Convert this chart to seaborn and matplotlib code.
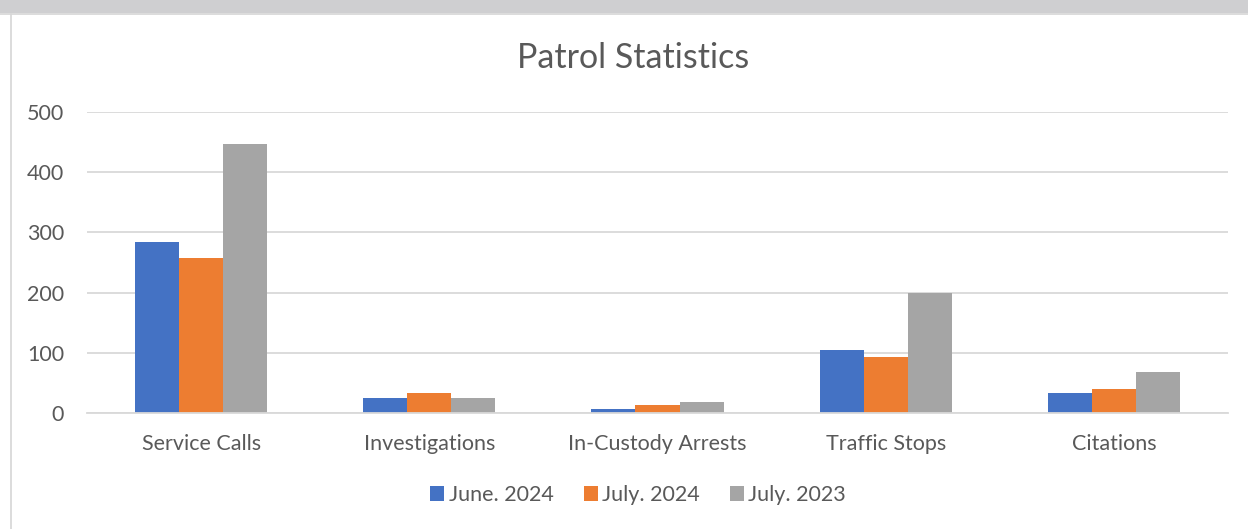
import pandas as pd
import seaborn as sns
import matplotlib.pyplot as plt
from matplotlib.patches import Rectangle
from matplotlib.lines import Line2D

categories = ["Service Calls", "Investigations", "In-Custody Arrests", "Traffic Stops", "Citations"]
series = ["June. 2024", "July. 2024", "July. 2023"]
june_2024 = [284, 24, 6, 104, 32]
july_2024 = [258, 33, 12, 92, 39]
july_2023 = [447, 24, 18, 200, 67]
colors = ["#4472C4", "#ED7D31", "#A5A5A5"]
y_ticks = [0, 100, 200, 300, 400, 500]

rows = []
for name, vals in zip(series, [june_2024, july_2024, july_2023]):
    for cat, v in zip(categories, vals):
        rows.append({"Category": cat, "Series": name, "Value": v})
df = pd.DataFrame(rows)

sns.set_style("white")
plt.rcParams["font.family"] = ["Lato", "DejaVu Sans"]
text_col = "#595959"

fig = plt.figure(figsize=(12.48, 5.29), dpi=100)
fig.patch.set_facecolor("white")

# page background strip above the chart frame
fig.patches.append(Rectangle((0, 1 - 13 / 529), 1, 13 / 529, transform=fig.transFigure,
                             facecolor="#CFCFD1", edgecolor="none", zorder=0))
fig.lines.append(Line2D([0, 1], [1 - 13.5 / 529] * 2, transform=fig.transFigure,
                        color="#D6D6D6", lw=1.2))
fig.lines.append(Line2D([11 / 1248] * 2, [0, 1 - 13.5 / 529], transform=fig.transFigure,
                        color="#D6D6D6", lw=1.2))

ax = fig.add_axes([87 / 1248, 1 - 412.7 / 529, (1228 - 87) / 1248, (412.7 - 112.3) / 529])
sns.barplot(data=df, x="Category", y="Value", hue="Series", palette=colors,
            width=0.58, gap=0, saturation=1, ax=ax, legend=False, edgecolor="none")

ax.set_ylim(0, 500)
ax.set_xlim(-0.5, 4.5)
ax.set_yticks(y_ticks)
ax.yaxis.grid(True, color="#D9D9D9", lw=1.3)
ax.set_axisbelow(True)
for s in ["top", "right", "left"]:
    ax.spines[s].set_visible(False)
ax.spines["bottom"].set_color("#D9D9D9")
ax.spines["bottom"].set_linewidth(1.3)
ax.set_xlabel("")
ax.set_ylabel("")
ax.tick_params(axis="both", length=0, labelsize=15.5, labelcolor=text_col)
ax.tick_params(axis="y", pad=16.5)
ax.tick_params(axis="x", pad=15)

fig.text(633 / 1248, 1 - 58 / 529, "Patrol Statistics", ha="center", va="center",
         fontsize=24.5, color=text_col)

handles = [Rectangle((0, 0), 1, 1, facecolor=c, edgecolor="none") for c in colors]
fig.legend(handles, series, loc="center", bbox_to_anchor=(638 / 1248, 1 - 495 / 529),
           ncol=3, frameon=False, fontsize=15.5, labelcolor=text_col,
           handlelength=0.65, handleheight=0.65, handletextpad=0.2, columnspacing=1.4)

fig.savefig("out.png", dpi=100)
